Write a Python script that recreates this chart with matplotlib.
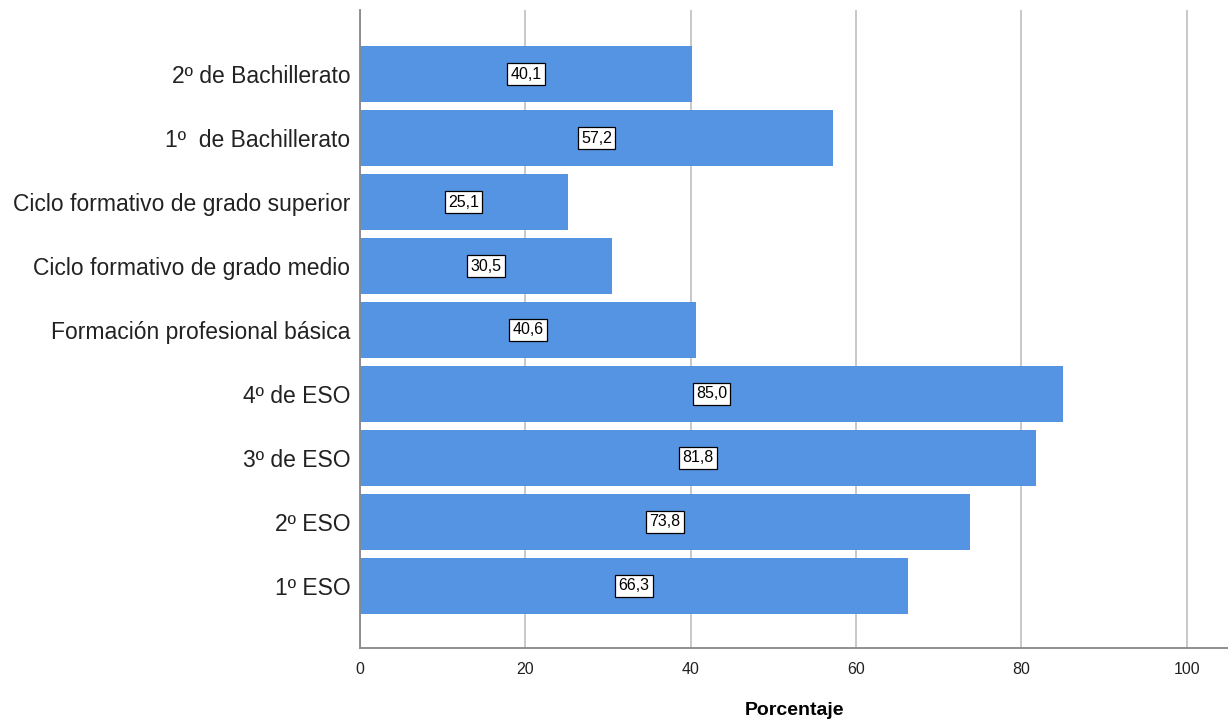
import matplotlib
matplotlib.use("Agg")
import matplotlib.pyplot as plt
import numpy as np

plt.rcParams["font.family"] = ["Liberation Sans", "DejaVu Sans"]

# bottom to top
categories = ["1º ESO", "2º ESO", "3º de ESO", "4º de ESO",
              "Formación profesional básica", "Ciclo formativo de grado medio",
              "Ciclo formativo de grado superior", "1º  de Bachillerato",
              "2º de Bachillerato"]
porcentaje = [66.3, 73.8, 81.8, 85.0, 40.6, 30.5, 25.1, 57.2, 40.1]
xticks = [0, 20, 40, 60, 80, 100]

fig = plt.figure(figsize=(12.28, 7.2), dpi=100)
ax = fig.add_axes([0.2932, 0.1, 0.7068, 0.886])

y = np.arange(len(categories))
ax.barh(y, porcentaje, height=0.875, color="#5594E3", zorder=2)

for yi, v in zip(y, porcentaje):
    ax.text(v / 2, yi, f"{v:.1f}".replace(".", ","), ha="center", va="center",
            fontsize=11.5, color="black", zorder=3,
            bbox=dict(boxstyle="square,pad=0.2", fc="white", ec="black", lw=0.9))

ax.set_xlim(0, 105)
ax.set_ylim(-0.97, 9.0)
ax.set_yticks(y)
ax.set_yticklabels(categories, fontsize=16.5, color="#222222")
ax.set_xticks(xticks)
ax.set_xticklabels([str(t) for t in xticks], fontsize=11.5, color="#222222")
ax.tick_params(axis="y", length=0, pad=7)
ax.tick_params(axis="x", length=0, pad=10)

ax.grid(axis="x", color="#C8C8C8", linewidth=1.4, zorder=0)
ax.set_axisbelow(True)
for s in ["top", "right"]:
    ax.spines[s].set_visible(False)
for s in ["left", "bottom"]:
    ax.spines[s].set_color("#888888")
    ax.spines[s].set_linewidth(1.3)

ax.set_xlabel("Porcentaje", fontsize=14, fontweight="bold", labelpad=18)

fig.savefig("out.png", dpi=100)
